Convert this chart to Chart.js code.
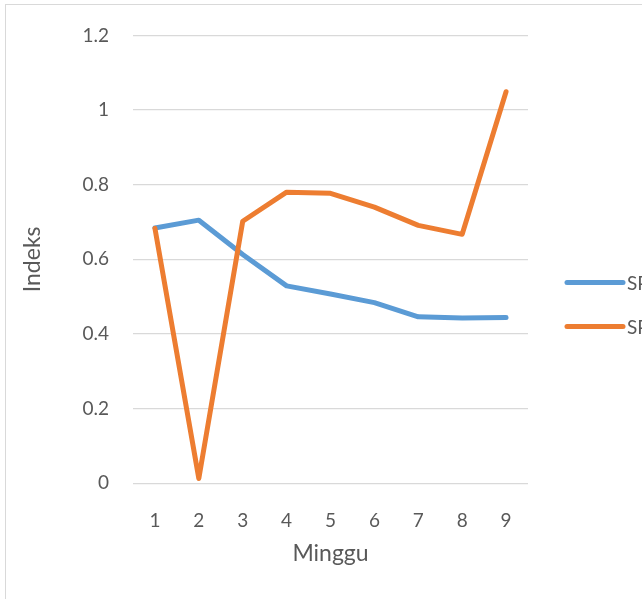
<!DOCTYPE html>
<html>
<head>
<meta charset="utf-8">
<script src="https://cdn.jsdelivr.net/npm/chart.js@4/dist/chart.umd.min.js"></script>
<style>
  html, body { margin: 0; padding: 0; background: #fff; overflow: hidden; }
  #frame { position: absolute; left: 5px; top: 4px; width: 800px; height: 800px; border: 1px solid #d9d9d9; background: #fff; }
  #c { position: absolute; left: 0; top: 0; }
</style>
</head>
<body>
<div id="frame"></div>
<canvas id="c" width="642" height="599"></canvas>
<script>
const categories = ['1', '2', '3', '4', '5', '6', '7', '8', '9'];
const seriesNames = ['SPI', 'SPEI'];
const seriesBlue = [0.684, 0.705, 0.613, 0.529, 0.507, 0.484, 0.446, 0.443, 0.444];
const seriesOrange = [0.683, 0.013, 0.702, 0.780, 0.777, 0.740, 0.691, 0.667, 1.049];
const yTickLabels = ['0', '0.2', '0.4', '0.6', '0.8', '1', '1.2'];
const yAxisTitle = 'Indeks';
const xAxisTitle = 'Minggu';

const TEXT = '#595959';
const FONT = 'Lato, "Open Sans", sans-serif';

const legendPlugin = {
  id: 'sideLegend',
  afterDraw(chart) {
    const ctx = chart.ctx;
    const area = chart.chartArea;
    const x0 = area.right + 39, x1 = area.right + 95;
    const ys = [area.top + 247, area.top + 291];
    chart.data.datasets.forEach((ds, i) => {
      ctx.save();
      ctx.strokeStyle = ds.borderColor;
      ctx.lineWidth = ds.borderWidth;
      ctx.lineCap = 'round';
      ctx.beginPath();
      ctx.moveTo(x0, ys[i]);
      ctx.lineTo(x1, ys[i]);
      ctx.stroke();
      ctx.fillStyle = TEXT;
      ctx.font = '19px ' + FONT;
      ctx.textBaseline = 'middle';
      ctx.textAlign = 'left';
      ctx.fillText(ds.label, x1 + 4, ys[i] + 1);
      ctx.restore();
    });
  }
};

new Chart(document.getElementById('c'), {
  type: 'line',
  data: {
    labels: categories,
    datasets: [
      { label: seriesNames[0], data: seriesBlue, borderColor: '#5B9BD5', backgroundColor: '#5B9BD5',
        borderWidth: 5, pointRadius: 0, tension: 0, borderCapStyle: 'round', borderJoinStyle: 'round', order: 1 },
      { label: seriesNames[1], data: seriesOrange, borderColor: '#ED7D31', backgroundColor: '#ED7D31',
        borderWidth: 5, pointRadius: 0, tension: 0, borderCapStyle: 'round', borderJoinStyle: 'round', order: 0 }
    ]
  },
  options: {
    responsive: false,
    animation: false,
    devicePixelRatio: 1,
    layout: { padding: { top: 33, right: 114, left: 0, bottom: 0 } },
    plugins: { legend: { display: false }, tooltip: { enabled: false } },
    scales: {
      x: {
        offset: true,
        grid: { display: false },
        border: { display: false },
        ticks: { color: TEXT, font: { family: FONT, size: 19 }, padding: 18 },
        title: { display: true, text: xAxisTitle, color: TEXT, font: { family: FONT, size: 23 }, padding: { top: 0, bottom: 32 } },
        afterFit(scale) { scale.height = 115.7; }
      },
      y: {
        min: 0, max: 1.2,
        ticks: {
          stepSize: 0.2, color: TEXT, font: { family: FONT, size: 19 }, padding: 24,
          callback: (value, index) => yTickLabels[index]
        },
        grid: { color: '#D9D9D9', lineWidth: 1.3, drawTicks: false },
        border: { display: false },
        title: { display: true, text: yAxisTitle, color: TEXT, font: { family: FONT, size: 23 }, padding: { top: 19, bottom: 0 } },
        afterFit(scale) { scale.width = 133; }
      }
    }
  },
  plugins: [legendPlugin]
});
</script>
</body>
</html>
